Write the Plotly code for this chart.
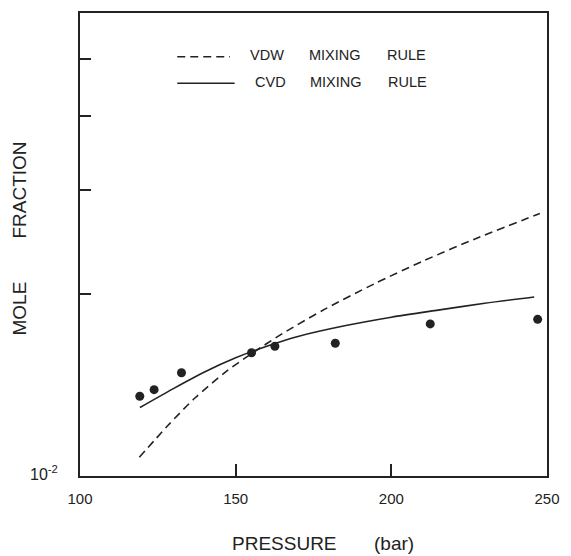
import plotly.graph_objects as go
import numpy as np

# Experimental data (pressure in bar, mole fraction)
exp_p = [119.2, 123.8, 132.6, 155.1, 162.6, 182.0, 212.5, 247.0]
exp_y = [0.01346, 0.01381, 0.01475, 0.01594, 0.01635, 0.01654, 0.01783, 0.01815]

# CVD mixing rule (solid)
cvd_p = [119.25, 130, 140, 150, 160, 170, 185, 200, 215, 230, 245.9]
cvd_log_y = [-1.890, -1.858, -1.830, -1.806, -1.7865, -1.770, -1.752, -1.7375, -1.7255, -1.714, -1.7035]
cvd_y = [10 ** v for v in cvd_log_y]

# VDW mixing rule (dashed)
vdw_p = [119.06, 128.3, 137.0, 147.0, 155.1, 165.1, 178.8, 194.6, 210.3, 228.2, 247.7]
vdw_log_y = [-1.974, -1.920, -1.8735, -1.829, -1.799, -1.765, -1.7235, -1.681, -1.6425, -1.6025, -1.5625]
vdw_y = [10 ** v for v in vdw_log_y]

x_ticks = [100, 150, 200, 250]
x_tick_labels = ["100", "150", "200", "250"]
y_ticks = [0.02, 0.03, 0.04, 0.05]
y_bottom_label = "10<sup>-2</sup>"

FONT = "Liberation Sans, Arial, Helvetica, sans-serif"
INK = "#222222"

fig = go.Figure()
fig.add_trace(go.Scatter(x=vdw_p, y=vdw_y, mode="lines",
                         line=dict(color=INK, width=1.6, dash="8px,5px", shape="spline", smoothing=0.8),
                         showlegend=False))
fig.add_trace(go.Scatter(x=cvd_p, y=cvd_y, mode="lines",
                         line=dict(color=INK, width=1.6, shape="spline", smoothing=0.8),
                         showlegend=False))
fig.add_trace(go.Scatter(x=exp_p, y=exp_y, mode="markers", marker=dict(color=INK, size=9), showlegend=False))

W, H = 571, 556
L, R, T, B = 80.3, 555.7, 11, 476

def px(xp):
    return (xp - L) / (R - L)

def py(yp):
    return (B - yp) / (B - T)

# legend samples
fig.add_shape(type="line", xref="paper", yref="paper", x0=px(179.3), x1=px(233), y0=py(55), y1=py(55),
              line=dict(color=INK, width=1.6, dash="8px,5px"))
fig.add_shape(type="line", xref="paper", yref="paper", x0=px(179.3), x1=px(237.7), y0=py(81.5), y1=py(81.5),
              line=dict(color=INK, width=1.6))

ann = []
def word(text, xp, yp, size=14.5, anchor="left"):
    ann.append(dict(text=text, x=px(xp), y=py(yp), xref="paper", yref="paper", showarrow=False,
                    xanchor=anchor, yanchor="middle",
                    font=dict(family=FONT, size=size, color=INK)))

word("VDW", 251.7, 52.7)
word("MIXING", 311, 52.7)
word("RULE", 390.7, 52.7)
word("CVD", 256.7, 80.7)
word("MIXING", 312.3, 80.7)
word("RULE", 391.7, 80.7)

# axis titles
word("PRESSURE", 233, 544, size=19)
word("(bar)", 378, 544, size=19)
ann.append(dict(text="MOLE", x=px(19), y=py(308), xref="paper", yref="paper", showarrow=False,
                xanchor="center", yanchor="middle", textangle=-90, font=dict(family=FONT, size=19, color=INK)))
ann.append(dict(text="FRACTION", x=px(19), y=py(188.5), xref="paper", yref="paper", showarrow=False,
                xanchor="center", yanchor="middle", textangle=-90, font=dict(family=FONT, size=19, color=INK)))

# bottom y label 10^-2
ann.append(dict(text=y_bottom_label, x=0.0, y=np.log10(0.01), xref="paper", yref="y", showarrow=False,
                xanchor="right", yanchor="middle", xshift=-20, yshift=0,
                font=dict(family=FONT, size=16, color=INK)))

fig.update_layout(
    width=W, height=H,
    margin=dict(l=L, r=W - R, t=T, b=H - B, pad=0),
    paper_bgcolor="white", plot_bgcolor="white",
    annotations=ann,
    font=dict(family=FONT, color=INK),
)
fig.update_xaxes(range=[100, 250], tickvals=x_ticks, ticktext=x_tick_labels,
                 ticks="inside", ticklen=12, tickwidth=1.5, tickcolor=INK,
                 showline=True, linecolor=INK, linewidth=1.6, mirror=True,
                 showgrid=False, zeroline=False, tickfont=dict(size=15, family=FONT, color=INK),
                 ticklabelstandoff=8)
fig.update_yaxes(type="log", range=[np.log10(0.009873), np.log10(0.0597)], tickvals=y_ticks,
                 showticklabels=False,
                 ticks="inside", ticklen=11, tickwidth=1.5, tickcolor=INK,
                 showline=True, linecolor=INK, linewidth=1.6, mirror=True,
                 showgrid=False, zeroline=False)

fig.write_html("out.html")
